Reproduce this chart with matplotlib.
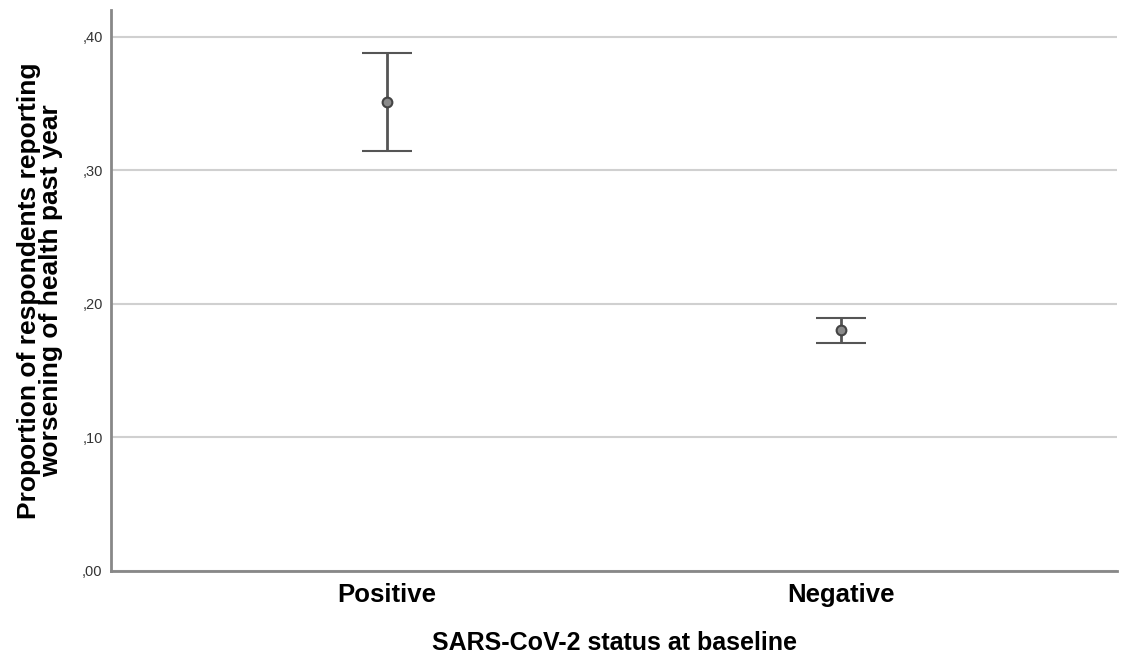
import matplotlib.pyplot as plt
from matplotlib.ticker import FuncFormatter

plt.rcParams['font.family'] = ['Liberation Sans', 'DejaVu Sans']

# data
categories = ["Positive", "Negative"]
means = [0.351, 0.1805]
ci_low = [0.3146, 0.1705]
ci_high = [0.388, 0.1895]

fig = plt.figure(figsize=(11.23, 6.53), dpi=100)
ax = fig.add_axes([0.0988, 0.1256, 0.8959, 0.8591])

x = list(range(len(categories)))
yerr = [[m - lo for m, lo in zip(means, ci_low)],
        [hi - m for m, hi in zip(means, ci_high)]]
ax.errorbar(x, means, yerr=yerr, fmt='o', color='#555555', ecolor='#555555',
            elinewidth=2, capsize=18, capthick=2, markersize=7,
            mfc='#8a8a8a', mec='#444444', mew=1.5, zorder=3)

ax.set_xlim(-0.608, 1.608)
ax.set_ylim(0, 0.42)
ax.set_yticks([0, 0.1, 0.2, 0.3, 0.4])
ax.yaxis.set_major_formatter(FuncFormatter(lambda v, p: f"{v:.2f}".replace("0.", ",")))
ax.set_xticks(x)
ax.set_xticklabels(categories, fontsize=18.5, fontweight='bold')
ax.tick_params(axis='both', length=0)
ax.tick_params(axis='y', labelsize=10.5, labelcolor='#333333', pad=6)
ax.tick_params(axis='x', pad=9)

ax.grid(axis='y', color='#d0d0d0', linewidth=1.5)
ax.set_axisbelow(True)
for s in ['top', 'right']:
    ax.spines[s].set_visible(False)
for s in ['left', 'bottom']:
    ax.spines[s].set_color('#888888')
    ax.spines[s].set_linewidth(2)

ax.set_xlabel("SARS-CoV-2 status at baseline", fontsize=18, fontweight='bold', labelpad=17)
ax.set_ylabel("Proportion of respondents reporting\nworsening of health past year",
              fontsize=19, fontweight='bold', linespacing=0.88, labelpad=14)

fig.savefig("out.png", dpi=100)
